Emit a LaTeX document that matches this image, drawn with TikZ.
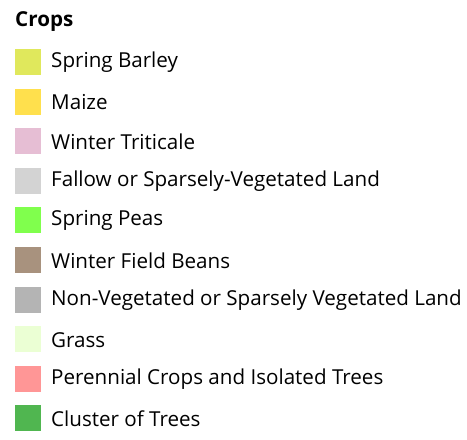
\documentclass[tikz,border=0pt]{standalone}
\usepackage{fontspec}
\setmainfont{Open Sans}
\definecolor{cBarley}{RGB}{224,232,92}
\definecolor{cMaize}{RGB}{255,224,77}
\definecolor{cTrit}{RGB}{230,190,212}
\definecolor{cFallow}{RGB}{211,211,211}
\definecolor{cPeas}{RGB}{128,255,77}
\definecolor{cBeans}{RGB}{168,146,126}
\definecolor{cNonVeg}{RGB}{180,180,180}
\definecolor{cGrass}{RGB}{235,255,212}
\definecolor{cPeren}{RGB}{255,150,150}
\definecolor{cTrees}{RGB}{80,182,80}
\begin{document}
\begin{tikzpicture}[x=1pt,y=-1pt,
  swatch/.style={minimum width=26pt,minimum height=26pt,inner sep=0pt,outer sep=0pt},
  lbl/.style={anchor=west,inner sep=0pt,font=\fontsize{20.6}{24}\selectfont},
  ttl/.style={anchor=west,inner sep=0pt,font=\fontsize{20.6}{24}\selectfont\bfseries}]
\useasboundingbox (0,0) rectangle (467,440);
\node[ttl] (title) at (15,22) {Crops};
\foreach \i/\c/\t in {0/cBarley/Spring Barley,1/cMaize/Maize,2/cTrit/Winter Triticale,3/cFallow/Fallow or Sparsely-Vegetated Land,4/cPeas/Spring Peas,5/cBeans/Winter Field Beans,6/cNonVeg/Non-Vegetated or Sparsely Vegetated Land,7/cGrass/Grass,8/cPeren/Perennial Crops and Isolated Trees,9/cTrees/Cluster of Trees}{
  \node[swatch,fill=\c] (s\i) at (28,{62+39.6*\i}) {};
  \node[lbl] (t\i) at (51,{62.5+39.6*\i}) {\t};
}
\end{tikzpicture}
\end{document}
